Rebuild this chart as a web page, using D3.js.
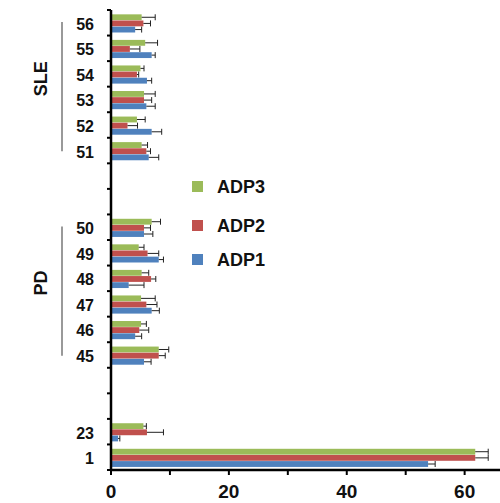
<!DOCTYPE html>
<html>
<head>
<meta charset="utf-8">
<script src="https://cdn.jsdelivr.net/npm/d3@7"></script>
<style>
  body { margin: 0; background: #fff; }
  text { font-family: "Liberation Sans", Arial, sans-serif; font-weight: bold; fill: #111; }
</style>
</head>
<body>
<svg id="chart" width="500" height="503"></svg>
<script>
// categories top to bottom, "" = empty slot
const categories = ["56", "55", "54", "53", "52", "51", "", "", "50", "49", "48", "47", "46", "45", "", "", "23", "1"];
const seriesNames = ["ADP3", "ADP2", "ADP1"];
const adp3 = [5.2, 5.8, 5.0, 5.6, 4.4, 5.2, null, null, 6.9, 4.7, 5.2, 5.1, 5.1, 8.1, null, null, 5.5, 61.8];
const adp3Err = [2.3, 2.1, 0.6, 1.9, 1.4, 1.0, null, null, 1.5, 0.9, 1.2, 2.4, 0.9, 1.7, null, null, 0.5, 2.2];
const adp2 = [5.5, 3.2, 4.4, 5.6, 2.8, 6.0, null, null, 5.6, 6.2, 6.8, 6.0, 4.8, 8.1, null, null, 6.1, 61.8];
const adp2Err = [1.2, 1.7, 0.3, 1.3, 1.7, 0.7, null, null, 1.1, 1.9, 0.8, 1.8, 1.6, 1.1, null, null, 2.8, 2.2];
const adp1 = [4.1, 6.9, 6.1, 6.0, 6.9, 6.4, null, null, 5.6, 8.1, 3.0, 6.9, 4.1, 5.6, null, null, 1.2, 53.8];
const adp1Err = [1.1, 0.6, 0.8, 1.5, 1.7, 1.7, null, null, 1.5, 0.8, 2.6, 1.3, 1.1, 1.2, null, null, 0.3, 1.2];
const xTicks = [0, 10, 20, 30, 40, 50, 60];
const xLabels = [0, 20, 40, 60];
const groups = [{name: "SLE", from: "56", to: "51"}, {name: "PD", from: "50", to: "45"}];

const colors = {ADP3: "#9bbb59", ADP2: "#c0504d", ADP1: "#4f81bd"};
const series = [
    {name: "ADP3", values: adp3, err: adp3Err},
    {name: "ADP2", values: adp2, err: adp2Err},
    {name: "ADP1", values: adp1, err: adp1Err}
];

const svg = d3.select("#chart");
const M = {left: 111, top: 10, bottom: 470, right: 500};

const x = d3.scaleLinear().domain([0, 66]).range([M.left, M.right]);
const y = d3.scaleBand().domain(d3.range(categories.length)).range([M.top, M.bottom]);
const inner = d3.scaleBand()
    .domain(seriesNames)
    .range([y.bandwidth() * 0.17, y.bandwidth() * 0.88])
    .paddingInner(0.05);

// bars + error bars
series.forEach(s => {
    const g = svg.append("g").attr("id", s.name);
    const rows = s.values.map((v, i) => ({v, e: s.err[i], i})).filter(d => d.v !== null);
    g.selectAll("rect")
        .data(rows)
        .enter().append("rect")
        .attr("x", x(0))
        .attr("y", d => y(d.i) + inner(s.name))
        .attr("width", d => x(d.v) - x(0))
        .attr("height", inner.bandwidth())
        .attr("fill", colors[s.name]);

    const eb = g.selectAll("g.err")
        .data(rows)
        .enter().append("g")
        .attr("class", "err")
        .attr("transform", d => `translate(0,${y(d.i) + inner(s.name) + inner.bandwidth() / 2})`);
    eb.append("line")
        .attr("x1", d => x(d.v)).attr("x2", d => x(d.v + d.e))
        .attr("stroke", "#222").attr("stroke-width", 1);
    eb.append("line")
        .attr("x1", d => x(d.v + d.e)).attr("x2", d => x(d.v + d.e))
        .attr("y1", -3).attr("y2", 3)
        .attr("stroke", "#222").attr("stroke-width", 1);
});

// y axis
svg.append("line")
    .attr("x1", M.left).attr("x2", M.left).attr("y1", M.top).attr("y2", M.bottom)
    .attr("stroke", "#000").attr("stroke-width", 2.5);
svg.append("g").selectAll("line")
    .data(d3.range(categories.length + 1))
    .enter().append("line")
    .attr("x1", M.left - 4).attr("x2", M.left)
    .attr("y1", i => M.top + i * y.step()).attr("y2", i => M.top + i * y.step())
    .attr("stroke", "#000").attr("stroke-width", 2);
svg.append("g").selectAll("text")
    .data(categories.map((c, i) => ({c, i})).filter(d => d.c !== ""))
    .enter().append("text")
    .attr("x", 94)
    .attr("y", d => y(d.i) + y.bandwidth() / 2 + 7)
    .attr("text-anchor", "end")
    .attr("font-size", 16)
    .text(d => d.c);

// x axis
svg.append("line")
    .attr("x1", M.left).attr("x2", M.right).attr("y1", M.bottom).attr("y2", M.bottom)
    .attr("stroke", "#000").attr("stroke-width", 2.5);
svg.append("g").selectAll("line")
    .data(xTicks)
    .enter().append("line")
    .attr("x1", d => x(d)).attr("x2", d => x(d))
    .attr("y1", M.bottom - 1).attr("y2", M.bottom + 5)
    .attr("stroke", "#000").attr("stroke-width", 2);
svg.append("g").selectAll("text")
    .data(xLabels)
    .enter().append("text")
    .attr("x", d => x(d))
    .attr("y", 498)
    .attr("text-anchor", "middle")
    .attr("font-size", 19)
    .text(d => d);

// group brackets
groups.forEach(gr => {
    const i0 = categories.indexOf(gr.from), i1 = categories.indexOf(gr.to);
    const y0 = y(i0) + 12, y1 = y(i1) + y.bandwidth() - 12;
    svg.append("line")
        .attr("x1", 62).attr("x2", 62).attr("y1", y0).attr("y2", y1)
        .attr("stroke", "#777").attr("stroke-width", 1.5);
    const cy = (y(i0) + y(i1) + y.bandwidth()) / 2 - 8;
    svg.append("text")
        .attr("transform", `translate(47,${cy}) rotate(-90)`)
        .attr("text-anchor", "middle")
        .attr("font-size", 18)
        .text(gr.name);
});

// legend
const legend = svg.append("g").attr("transform", "translate(192,181)");
seriesNames.forEach((n, i) => {
    const row = legend.append("g").attr("transform", `translate(0,${[0, 39, 73][i]})`);
    row.append("rect").attr("width", 11).attr("height", 11).attr("fill", colors[n]);
    row.append("text").attr("x", 25).attr("y", 12).attr("font-size", 18).text(n);
});
</script>
</body>
</html>
